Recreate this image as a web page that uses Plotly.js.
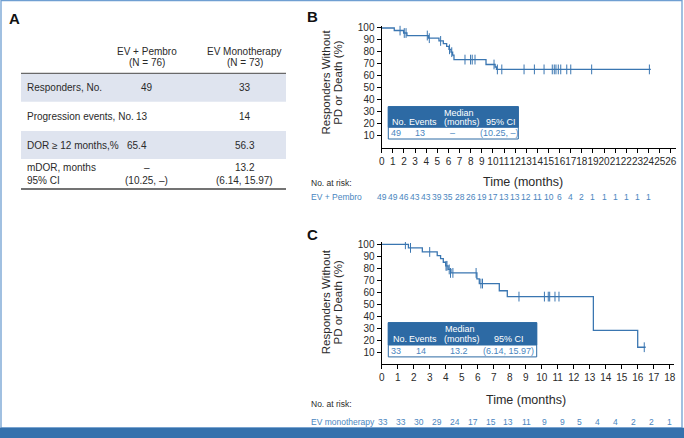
<!DOCTYPE html>
<html><head><meta charset="utf-8">
<script src="https://cdn.plot.ly/plotly-3.0.1.min.js"></script>
<style>html,body{margin:0;padding:0;background:#fff}#chart{width:684px;height:438px}</style>
</head><body><div id="chart"></div>
<script>
// ---------- Panel A table ----------
const colHeaders = ["EV + Pembro", "EV Monotherapy"];
const colN = ["(N = 76)", "(N = 73)"];
const rowLabels = ["Responders, No.", "Progression events, No.", "DOR \u2265 12 months,%", "mDOR, months"];
const rowLabel2 = "95% CI";
const pembroValues = ["49", "13", "65.4", "\u2013"];
const monoValues = ["33", "14", "56.3", "13.2"];
const pembroCI = "(10.25, \u2013)";
const monoCI = "(6.14, 15.97)";

// ---------- Panel B: EV + Pembro KM ----------
const pembroStepTime = [0, 1.13, 1.97, 2.27, 4.19, 5.15, 5.54, 5.84, 6.05, 6.23, 6.38, 6.5, 9.38, 10.2, 10.32, 24.2];
const pembroStepSurv = [100, 97.9, 95.8, 93.7, 91.5, 89.2, 86.9, 84.6, 82.2, 79.8, 77.4, 73.6, 69.5, 67.4, 65.4, 65.4];
const pembroCensorTime = [1.65, 2.03, 2.19, 4.1, 4.28, 5.3, 6.1, 6.3, 7.49, 7.99, 8.14, 8.39, 10.1, 10.4, 10.8, 12.8, 13.73, 14.6, 15.34, 15.52, 15.67, 15.88, 16.1, 16.64, 17.0, 18.88, 24.07];
const pembroCensorSurv = [97.9, 95.8, 95.8, 93.7, 91.5, 89.2, 82.2, 79.8, 73.6, 73.6, 73.6, 73.6, 69.5, 65.4, 65.4, 65.4, 65.4, 65.4, 65.4, 65.4, 65.4, 65.4, 65.4, 65.4, 65.4, 65.4, 65.4];
const pembroAtRisk = [49, 49, 46, 43, 43, 39, 35, 28, 26, 19, 17, 13, 13, 12, 11, 10, 6, 4, 2, 1, 1, 1, 1, 1, 1];
const pembroInset = {header: ["No.", "Events", "(months)", "95% CI"], row: ["49", "13", "\u2013", "(10.25, \u2013)"]};

// ---------- Panel C: EV monotherapy KM ----------
const monoStepTime = [0, 1.67, 2.54, 3.47, 3.68, 3.85, 4.0, 4.15, 4.33, 5.95, 6.1, 7.35, 7.85, 13.23, 16.0, 16.5];
const monoStepSurv = [100, 97.0, 93.6, 90.5, 88.0, 85.0, 82.0, 79.0, 76.1, 71.1, 67.2, 61.2, 56.3, 28.1, 14.0, 14.0];
const monoCensorTime = [1.48, 1.8, 3.0, 4.02, 4.08, 4.22, 4.3, 4.45, 5.9, 6.2, 6.3, 8.58, 10.17, 10.41, 10.5, 10.83, 11.08, 16.41];
const monoCensorSurv = [100, 97.0, 93.6, 82.0, 82.0, 79.0, 76.1, 76.1, 76.1, 67.2, 67.2, 56.3, 56.3, 56.3, 56.3, 56.3, 56.3, 14.0];
const monoAtRisk = [33, 33, 30, 29, 24, 17, 15, 13, 11, 9, 9, 5, 4, 4, 2, 2, 1];
const monoInset = {header: ["No.", "Events", "(months)", "95% CI"], row: ["33", "14", "13.2", "(6.14, 15.97)"]};

// ---------- helpers ----------
const W = 684, H = 438;
const X = p => p / W;
const Y = p => 1 - p / H;
const FONT = "Liberation Sans, Arial, sans-serif";
const BLUE = "#3a76b1";
const TXTBLUE = "#4a86c0";
const HDR = "#2d6aa4";
const TXT = "#2a2a2a";

const ann = [];
function txt(text, x, y, opt = {}) {
  ann.push(Object.assign({
    text: text, x: X(x), y: Y(y), xref: "paper", yref: "paper",
    showarrow: false, xanchor: "center", yanchor: "middle",
    font: {family: FONT, size: 10, color: TXT}
  }, opt));
}
const shapes = [];
function rect(x0, y0, x1, y1, fill, line, lw) {
  shapes.push({type: "rect", xref: "paper", yref: "paper", x0: X(x0), x1: X(x1), y0: Y(y1), y1: Y(y0),
    fillcolor: fill, line: {color: line || "rgba(0,0,0,0)", width: lw || 0}, layer: "above"});
}
function hline(x0, x1, y, color, w) {
  shapes.push({type: "line", xref: "paper", yref: "paper", x0: X(x0), x1: X(x1), y0: Y(y), y1: Y(y),
    line: {color: color, width: w}});
}

// Frame and bottom band
shapes.push({type: "rect", xref: "paper", yref: "paper", x0: X(1), x1: X(682), y0: Y(428), y1: Y(0.6),
  fillcolor: "rgba(0,0,0,0)", line: {color: "#6f9fd2", width: 1.3}, layer: "below"});
rect(0, 427.7, 684, 438, "#3571ad");

// ---------- Panel A ----------
txt("<b>A</b>", 14.7, 18.5, {font: {family: FONT, size: 15, color: "#111"}});
rect(21, 74, 286, 101.7, "#dfe4ef");
rect(21, 131, 286, 159, "#dfe4ef");
hline(21, 286, 73.3, "#444", 1);
hline(21, 286, 189, "#444", 1.5);
const colX = [146.7, 244.7];
colHeaders.forEach((h, i) => { txt(h, colX[i], 51.7); txt(colN[i], colX[i], 62.7); });
const rowY = [87.7, 116.7, 145, 167.7];
const pembroX = [146.7, 142.3, 137.3, 146.7];
rowLabels.forEach((l, i) => {
  txt(l, 25, rowY[i], {xanchor: "left"});
  txt(pembroValues[i], pembroX[i], rowY[i]);
  txt(monoValues[i], colX[1], rowY[i]);
});
txt(rowLabel2, 25, 180.3, {xanchor: "left"});
txt(pembroCI, colX[0], 180.3);
txt(monoCI, colX[1], 180.3);

// ---------- Panel labels / titles ----------
txt("<b>B</b>", 312, 17, {font: {family: FONT, size: 15, color: "#111"}});
txt("<b>C</b>", 312, 234, {font: {family: FONT, size: 15, color: "#111"}});
const ytl1 = "Responders Without", ytl2 = "PD or Death (%)";
[[82, 0], [301.7, 1]].forEach(([cy]) => {
  txt(ytl1, 325.5, cy, {textangle: -90, font: {family: FONT, size: 11.5, color: TXT}});
  txt(ytl2, 337.8, cy, {textangle: -90, font: {family: FONT, size: 11.5, color: TXT}});
});
txt("Time (months)", 523, 182, {font: {family: FONT, size: 12.5, color: TXT}});
txt("Time (months)", 525.7, 400, {font: {family: FONT, size: 12.5, color: TXT}});
txt("No. at risk:", 309, 183.5, {xanchor: "left", font: {family: FONT, size: 8.5, color: TXT}});
txt("No. at risk:", 309, 404.3, {xanchor: "left", font: {family: FONT, size: 8.5, color: TXT}});
txt("EV + Pembro", 309, 197, {xanchor: "left", font: {family: FONT, size: 8.5, color: TXTBLUE}});
txt("EV monotherapy", 309, 422.3, {xanchor: "left", font: {family: FONT, size: 8.5, color: TXTBLUE}});

pembroAtRisk.forEach((v, i) => ann.push({text: String(v), x: i, xref: "x", y: Y(197), yref: "paper",
  showarrow: false, xanchor: "center", yanchor: "middle", font: {family: FONT, size: 8.5, color: TXTBLUE}}));
monoAtRisk.forEach((v, i) => ann.push({text: String(v), x: 0.1 + i * 1.117, xref: "x2", y: Y(422.3), yref: "paper",
  showarrow: false, xanchor: "center", yanchor: "middle", font: {family: FONT, size: 8.5, color: TXTBLUE}}));

// ---------- inset tables ----------
function inset(x0, x1, y0, yh, y1, d, colL, rowCx, medianCx, ciCentered) {
  rect(x0, y0, x1, y1, "#ffffff", HDR, 1);
  rect(x0, y0, x1, yh, HDR, HDR, 1);
  const wf = {family: FONT, size: 9, color: "#ffffff"};
  txt("Median", medianCx, y0 + 6.2, {font: wf});
  const hy = y0 + 15.8;
  d.header.forEach((h, i) => {
    if (i === 3 && ciCentered) txt(h, ciCentered, hy, {font: wf});
    else txt(h, colL[i], hy, {xanchor: "left", font: wf});
  });
  const ry = (yh + y1) / 2;
  d.row.forEach((r, i) => txt(r, rowCx[i], ry, {font: {family: FONT, size: 9, color: TXTBLUE}}));
}
inset(388.3, 518.3, 106.7, 127.3, 139, pembroInset, [390, 407.3, 441.7, 484.3], [396, 420, 453, 499], 458.7, null);
inset(388.3, 536.7, 322.7, 345, 356.9, monoInset, [390.7, 407.3, 441.7, 495], [396, 421.3, 459, 509], 460, 509);

// ---------- traces ----------
const traces = [
  {x: pembroStepTime, y: pembroStepSurv, xaxis: "x", yaxis: "y", type: "scatter", mode: "lines",
    line: {shape: "hv", color: BLUE, width: 1.3}, hoverinfo: "skip"},
  {x: pembroCensorTime, y: pembroCensorSurv, xaxis: "x", yaxis: "y", type: "scatter", mode: "markers",
    marker: {symbol: "line-ns", size: 7, line: {color: BLUE, width: 1}}, hoverinfo: "skip"},
  {x: monoStepTime, y: monoStepSurv, xaxis: "x2", yaxis: "y2", type: "scatter", mode: "lines",
    line: {shape: "hv", color: BLUE, width: 1.3}, hoverinfo: "skip"},
  {x: monoCensorTime, y: monoCensorSurv, xaxis: "x2", yaxis: "y2", type: "scatter", mode: "markers",
    marker: {symbol: "line-ns", size: 7, line: {color: BLUE, width: 1}}, hoverinfo: "skip"}
];

const yTicks = [10, 20, 30, 40, 50, 60, 70, 80, 90, 100];
const axCommon = {showline: true, linecolor: "#000", linewidth: 1.2, ticks: "outside", ticklen: 4,
  tickcolor: "#000", tickwidth: 1, showgrid: false, zeroline: false, fixedrange: true,
  tickfont: {family: FONT, size: 10, color: TXT}};

const layout = {
  width: W, height: H, margin: {l: 0, r: 0, t: 0, b: 0, pad: 0},
  paper_bgcolor: "#ffffff", plot_bgcolor: "rgba(0,0,0,0)", showlegend: false,
  xaxis: Object.assign({}, axCommon, {domain: [X(381.7), X(676.4)], range: [0, 26.5], tickmode: "linear", tick0: 0, dtick: 1, tickangle: 0, anchor: "y"}),
  yaxis: Object.assign({}, axCommon, {domain: [Y(147.7), Y(25.6)], range: [0, 102], tickmode: "array", tickvals: yTicks, anchor: "x"}),
  xaxis2: Object.assign({}, axCommon, {domain: [X(381.7), X(673.7)], range: [0, 18.25], tickmode: "linear", tick0: 0, dtick: 1, tickangle: 0, anchor: "y2"}),
  yaxis2: Object.assign({}, axCommon, {domain: [Y(364), Y(241.9)], range: [0, 102], tickmode: "array", tickvals: yTicks, anchor: "x2"}),
  annotations: ann, shapes: shapes
};
Plotly.newPlot("chart", traces, layout, {displayModeBar: false, staticPlot: true});
</script></body></html>
